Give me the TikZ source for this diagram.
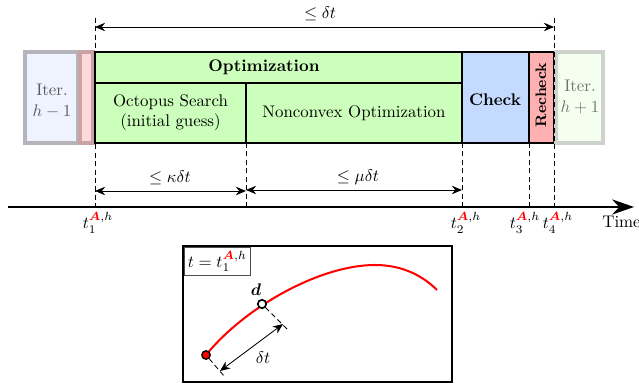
\documentclass[tikz,border=0pt]{standalone}
\usepackage{amsmath}
\usetikzlibrary{arrows.meta,fit}
\definecolor{itbluefill}{HTML}{EEF3FF}
\definecolor{itgray}{HTML}{B4B4BA}
\definecolor{pinkfill}{HTML}{FFD9D9}
\definecolor{pinkborder}{HTML}{C9A3A3}
\definecolor{optgreen}{HTML}{CCFFBB}
\definecolor{checkblue}{HTML}{C4DAFF}
\definecolor{recheckpink}{HTML}{FFB0B0}
\definecolor{itgreenfill}{HTML}{F4FFF0}
\definecolor{itgraylight}{HTML}{CDD2CD}
\tikzset{
  stagebox/.style={draw=black, line width=1.2pt, inner sep=0pt},
  iterbox/.style={line width=1.8pt, inner sep=0pt},
  dimarrow/.style={{Stealth[length=6pt,width=5pt]}-{Stealth[length=6pt,width=5pt]}, line width=0.5pt},
  guide/.style={densely dashed, line width=0.5pt},
  tlabel/.style={inner sep=1pt}
}
\newcommand{\tA}[1]{$t_{#1}^{\textcolor{red}{\boldsymbol{A}},h}$}
\begin{document}
\begin{tikzpicture}[x=0.5935pt,y=-0.5935pt]
\useasboundingbox (0,0) rectangle (639,384);
% boxes
\node[iterbox, draw=itgray, fill=itbluefill, fit={(25,52)(78,143)}] (itm) {};
\node[iterbox, draw=pinkborder, fill=pinkfill, fit={(80,52)(93,143)}] (pk) {};
\node[stagebox, fill=optgreen, fit={(95,52)(462,143)}] (opt) {};
\node[stagebox, fit={(95,83)(246,143)}] (oct) {};
\node[stagebox, fit={(246,83)(462,143)}] (ncv) {};
\node[stagebox, fill=checkblue, fit={(462,52)(529,143)}] (chk) {};
\node[stagebox, fill=recheckpink, fit={(529,52)(554,143)}] (rck) {};
\node[iterbox, draw=itgraylight, fill=itgreenfill, fit={(556,52)(603,143)}] (itp) {};
% texts
\node (optt) at (264,67) {\textbf{Optimization}};
\node[align=center] (octt) at (170.5,113) {Octopus Search\\(initial guess)};
\node (ncvt) at (354,113) {Nonconvex Optimization};
\node (chkt) at (495,100) {\textbf{Check}};
\node[rotate=90] (rckt) at (541,95) {\small\textbf{Recheck}};
\node[align=center, text=black!65] (itmt) at (52,101) {Iter.\\$h-1$};
\node[align=center, text=black!55] (itpt) at (580,97) {Iter.\\$h+1$};
% guide coordinates
\coordinate (g1t) at (95,18);  \coordinate (g1b) at (95,207);
\coordinate (g5t) at (554,18); \coordinate (g5b) at (554,207);
\coordinate (g2t) at (246,143); \coordinate (g2b) at (246,207);
\coordinate (g3t) at (462,143); \coordinate (g3b) at (462,207);
\coordinate (g4t) at (529,143); \coordinate (g4b) at (529,207);
\draw[guide] (g1t) -- (g1b);
\draw[guide] (g5t) -- (g5b);
\draw[guide] (g2t) -- (g2b);
\draw[guide] (g3t) -- (g3b);
\draw[guide] (g4t) -- (g4b);
% dimension arrows
\coordinate (a1) at (95,27); \coordinate (a2) at (554,27);
\draw[dimarrow] (a1) -- (a2);
\node (dt) at (320,14) {$\leq \delta t$};
\coordinate (k1) at (95,191); \coordinate (k2) at (246,191);
\draw[dimarrow] (k1) -- (k2);
\node (kdt) at (170,178) {$\leq \kappa\delta t$};
\coordinate (m1) at (246,190); \coordinate (m2) at (462,190);
\draw[dimarrow] (m1) -- (m2);
\node (mdt) at (358,177) {$\leq \mu\delta t$};
% time axis
\coordinate (ax0) at (8,207); \coordinate (ax1) at (634,207);
\draw[line width=1pt, -{Stealth[length=13pt,width=9pt]}] (ax0) -- (ax1);
\node[anchor=west, inner sep=0pt] (time) at (602,222) {Time};
\node[tlabel] (t1) at (98,223) {\tA{1}};
\node[tlabel] (t2) at (466,223) {\tA{2}};
\node[tlabel] (t3) at (525,223) {\tA{3}};
\node[tlabel] (t4) at (558,223) {\tA{4}};
% bottom inset
\node[draw=black, line width=0.8pt, inner sep=0pt, fit={(183,246)(452,382)}] (inset) {};
\node[draw=black!70, line width=0.6pt, anchor=north west, inner sep=2pt] (tlab) at (184,247) {$t=t_1^{\textcolor{red}{\boldsymbol{A}},h}$};
\draw[red, line width=1.2pt] (206,355) .. controls (245,307) and (320,265) .. (375,265)
  .. controls (405,265) and (425,278) .. (437,290);
\node[circle, draw=black, fill=red, line width=0.8pt, inner sep=0pt, minimum size=5pt] (p0) at (206,355) {};
\node[circle, draw=black, fill=white, line width=1pt, inner sep=0pt, minimum size=5pt] (p1) at (262,304) {};
\node (dlab) at (256,290) {$\boldsymbol{d}$};
\coordinate (e0) at (224,376); \coordinate (e1) at (287,329);
\draw[guide] (p0) -- (e0);
\draw[guide] (p1) -- (e1);
\coordinate (b0) at (220,371); \coordinate (b1) at (283,324);
\draw[dimarrow] (b0) -- (b1);
\node (dtl) at (263,358) {$\delta t$};
\end{tikzpicture}
\end{document}
